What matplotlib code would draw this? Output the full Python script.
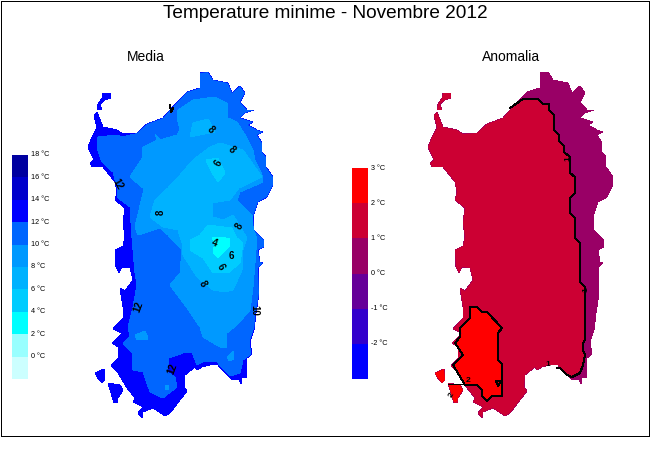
# Temperature minime Sardegna - media e anomalia
import matplotlib
matplotlib.use('Agg')
from matplotlib import pyplot as plt
from matplotlib.patches import Polygon, PathPatch
from matplotlib.path import Path

plt.rcParams['font.family'] = ['Liberation Sans', 'DejaVu Sans']

# map outlines, in picture pixels of the left map
main_coast = [(200,73),(208,72),(213,80),(228,83),(232,93),(240,86),(245,93),(240,102),(247,110),(254,110),
              (245,113),(240,118),(253,122),(248,125),(257,130),(263,132),(257,135),(262,143),(262,152),(266,157),
              (266,167),(273,177),(273,185),(267,197),(258,202),(253,217),(254,230),(264,240),(264,247),(258,250),
              (260,262),(263,263),(258,268),(259,293),(256,313),(254,330),(250,342),(252,354),(247,358),(247,377),
              (242,378),(241,384),(239,380),(232,380),(218,365),(210,365),(202,367),(197,370),(195,367),(185,375),
              (184,387),(187,391),(180,400),(170,413),(165,416),(153,408),(143,412),(142,418),(138,413),(143,407),
              (133,402),(135,398),(127,388),(118,373),(111,366),(118,358),(118,347),(112,343),(122,333),(113,329),
              (123,318),(123,307),(120,288),(125,291),(133,280),(130,268),(122,267),(119,273),(116,267),(115,250),
              (123,246),(125,237),(123,223),(125,208),(115,200),(117,192),(115,182),(103,167),(92,167),(90,163),
              (94,160),(88,147),(92,137),(97,128),(94,115),(97,112),(103,127),(117,130),(123,134),(137,133),
              (147,124),(163,118),(170,110),(187,92),(200,88)]
asinara = [(103,93),(111,93),(111,98),(105,100),(100,104),(102,110),(97,110),(98,104),(102,98)]
san_pietro = [(95,373),(104,369),(105,380),(102,383),(97,377)]
sant_antioco = [(108,383),(120,385),(123,390),(118,398),(118,403),(114,403),(111,393)]

# Media: areas of each temperature class
area_10_12 = [(147,124),(135,134),(122,137),(117,135),(98,137),(97,148),(102,162),(113,172),(117,187),(118,198),
              (130,207),(132,238),(133,250),(135,273),(137,285),(133,307),(128,327),(130,337),(123,343),(132,353),
              (133,370),(143,372),(150,392),(163,398),(177,387),(175,377),(167,372),(169,358),(183,353),(192,352),
              (197,365),(205,361),(217,362),(230,376),(240,373),(243,360),(251,354),(249,342),(253,330),(300,330),
              (300,60),(147,60)]
patch_12_14 = [(255,313),(259,313),(258,320),(255,318)]
area_8_10 = [(178,110),(193,100),(215,97),(227,103),(228,118),(237,122),(247,138),(253,150),(255,160),(262,175),
             (263,182),(240,192),(237,200),(253,217),(252,223),(257,240),(256,250),(253,287),(250,310),(237,325),
             (227,333),(227,348),(220,347),(203,337),(200,327),(187,308),(170,285),(180,273),(182,250),(168,235),
             (160,228),(138,235),(135,227),(143,193),(143,188),(130,177),(143,157),(142,148),(157,140),(155,134),
             (160,140),(177,135),(180,130),(177,118)]
patch_8_10_a = [(135,335),(145,331),(148,337),(147,340),(137,340)]
patch_8_10_b = [(227,357),(233,351),(234,359),(229,361)]
patch_8_10_c = [(165,385),(169,385),(169,390),(165,390)]
area_6_8 = [(150,217),(155,200),(168,188),(180,175),(193,160),(210,147),(220,143),(243,150),(255,167),(262,177),
            (239,188),(230,200),(212,203),(213,217),(223,220),(233,215),(247,238),(243,250),(242,270),(233,290),
            (225,292),(213,290),(197,277),(183,255),(182,243),(178,230),(163,227)]
lobe_6_8 = [(190,137),(193,123),(208,119),(215,132),(200,135)]
area_4_6 = [(190,240),(200,235),(208,225),(232,228),(237,238),(243,243),(240,263),(228,273),(213,273),(203,258),(190,250)]
lobe_4_6 = [(206,160),(218,158),(225,173),(218,182),(212,173)]
area_2_4 = [(212,238),(222,237),(230,239),(229,247),(218,258),(213,252),(215,243)]
north_tick = [(170,105),(171,112),(173,108)]

# contour labels on the left map: text, x, y, rotation
media_labels = [('8',211,130,-45),('8',232,150,-45),('6',218,163,60),('12',118,184,-60),('8',161,212,90),
                ('8',239,226,60),('4',214,243,-20),('6',231,256,0),('6',221,267,-60),('8',203,284,-60),
                ('12',138,307,70),('10',254,310,-90),('12',172,369,70)]

# Anomalia, in picture pixels of the right map
line_1c = [(510,108),(523,99),(538,99),(543,104),(549,104),(549,110),(554,115),(554,130),(559,135),(559,141),
           (564,146),(564,152),(570,157),(570,173),(575,177),(575,193),(570,198),(570,213),(575,218),(575,238),
           (580,243),(580,282),(585,287),(585,340),(583,343),(583,350),(585,355),(583,365),(580,373),(572,377),
           (567,375),(560,368),(557,368)]
area_above_1c_west = [(557,368),(530,420),(420,420),(420,80),(510,80)]
area_above_2c = [(470,307),(477,307),(482,312),(487,312),(502,328),(498,333),(498,360),(502,364),(502,396),(492,396),
                 (487,401),(482,396),(482,390),(477,385),(465,385),(453,365),(463,355),(455,343),(460,337),(460,328),
                 (470,318)]
isle_above_2c = [(448,384),(462,384),(463,389),(455,402),(450,393)]
loop_2c = [(496,381),(501,381),(498,386),(496,381)]
anom_labels = [('1',568,159,90),('1',586,290,90),('1',548,365,0),('2',468,381,0),('2',452,395,60)]

# colour bars
media_levels = [-2, 0, 2, 4, 6, 8, 10, 12, 14, 16]
media_colors = ['#ccffff', '#99ffff', '#00ffff', '#00ccff', '#00b2ff', '#0099ff', '#0066ff', '#0000ff', '#0000cc', '#0000a0']
media_ticks = [0, 2, 4, 6, 8, 10, 12, 14, 16, 18]
anom_levels = [-3, -2, -1, 0, 1, 2]
anom_colors = ['#0000ff', '#3300cc', '#660099', '#990066', '#cc0033', '#ff0000']
anom_ticks = [-2, -1, 0, 1, 2, 3]

W, H = 650, 450
fig = plt.figure(figsize=(W / 100, H / 100), dpi=100)
ax = fig.add_axes([0, 0, 1, 1])
ax.set_xlim(0, W)
ax.set_ylim(H, 0)
ax.axis('off')


def shift(points, dx):
    return [(x + dx, y) for x, y in points]


def island_path(dx):
    verts, codes = [], []
    for part in [main_coast, asinara, san_pietro, sant_antioco]:
        verts += shift(part, dx) + [part[0]]
        codes += [Path.MOVETO] + [Path.LINETO] * (len(part) - 1) + [Path.CLOSEPOLY]
    return Path(verts, codes)


def fill_clipped(points, color, clip):
    p = Polygon(points, closed=True, facecolor=color, edgecolor='none', antialiased=False, zorder=2)
    ax.add_patch(p)
    p.set_clip_path(clip)


def add_bar(left, bottom, levels, colors, ticks, step, lo, hi):
    # rectangle given in picture pixels
    cax = fig.add_axes([left / W, 1 - bottom[1] / H, 16 / W, (bottom[1] - bottom[0]) / H])
    cax.bar([0] * len(levels), [step] * len(levels), bottom=levels, width=1, color=colors, align='edge')
    cax.set_xlim(0, 1)
    cax.set_ylim(lo, hi)
    cax.axis('off')
    for t in ticks:
        cax.text(1.17, t, f'{t} °C', fontsize=5.2, va='center', ha='left', clip_on=False)


# frame
ax.add_patch(plt.Rectangle((0.5, 0.5), 648.5, 435, fill=False, edgecolor='black', lw=0.72, antialiased=False))

# left map
clip_left = PathPatch(island_path(0), transform=ax.transData, facecolor='#0000ff', edgecolor='none',
                      antialiased=False, zorder=1)
ax.add_patch(clip_left)
for pts, col in [(area_10_12, '#0066ff'), (patch_12_14, '#0000ff'), (area_8_10, '#0099ff'), (patch_8_10_a, '#0099ff'),
                 (patch_8_10_b, '#0099ff'), (patch_8_10_c, '#0099ff'), (area_6_8, '#00b2ff'), (lobe_6_8, '#00b2ff'),
                 (area_4_6, '#00ccff'), (lobe_4_6, '#00ccff'), (area_2_4, '#00ffff')]:
    fill_clipped(pts, col, clip_left)
ax.plot([p[0] for p in north_tick], [p[1] for p in north_tick], color='black', lw=0.72, antialiased=False, zorder=3)
for txt, x, y, rot in media_labels:
    ax.text(x, y, txt, fontsize=7, fontweight='bold', rotation=rot, ha='center', va='center', zorder=4)

# right map
clip_right = PathPatch(island_path(340), transform=ax.transData, facecolor='#990066', edgecolor='none',
                       antialiased=False, zorder=1)
ax.add_patch(clip_right)
fill_clipped(line_1c + area_above_1c_west[1:], '#cc0033', clip_right)
fill_clipped(area_above_2c, '#ff0000', clip_right)
fill_clipped(isle_above_2c, '#ff0000', clip_right)
fill_clipped(shift(san_pietro, 340), '#ff0000', clip_right)
for pts in [line_1c, area_above_2c + area_above_2c[:1], isle_above_2c[:2], loop_2c]:
    ax.plot([p[0] for p in pts], [p[1] for p in pts], color='black', lw=0.72, antialiased=False, zorder=3)
for txt, x, y, rot in anom_labels:
    ax.text(x, y, txt, fontsize=6, fontweight='bold', rotation=rot, ha='center', va='center', zorder=4)

# titles
ax.text(325, 13, 'Temperature minime - Novembre 2012', fontsize=13.7, ha='center', va='center')
ax.text(146, 57, 'Media', fontsize=10, ha='center', va='center')
ax.text(511, 57, 'Anomalia', fontsize=10, ha='center', va='center')

add_bar(12, (155, 379), media_levels, media_colors, media_ticks, 2, -2, 18)
add_bar(352, (168, 379), anom_levels, anom_colors, anom_ticks, 1, -3, 3)

fig.savefig('out.png', dpi=100)
